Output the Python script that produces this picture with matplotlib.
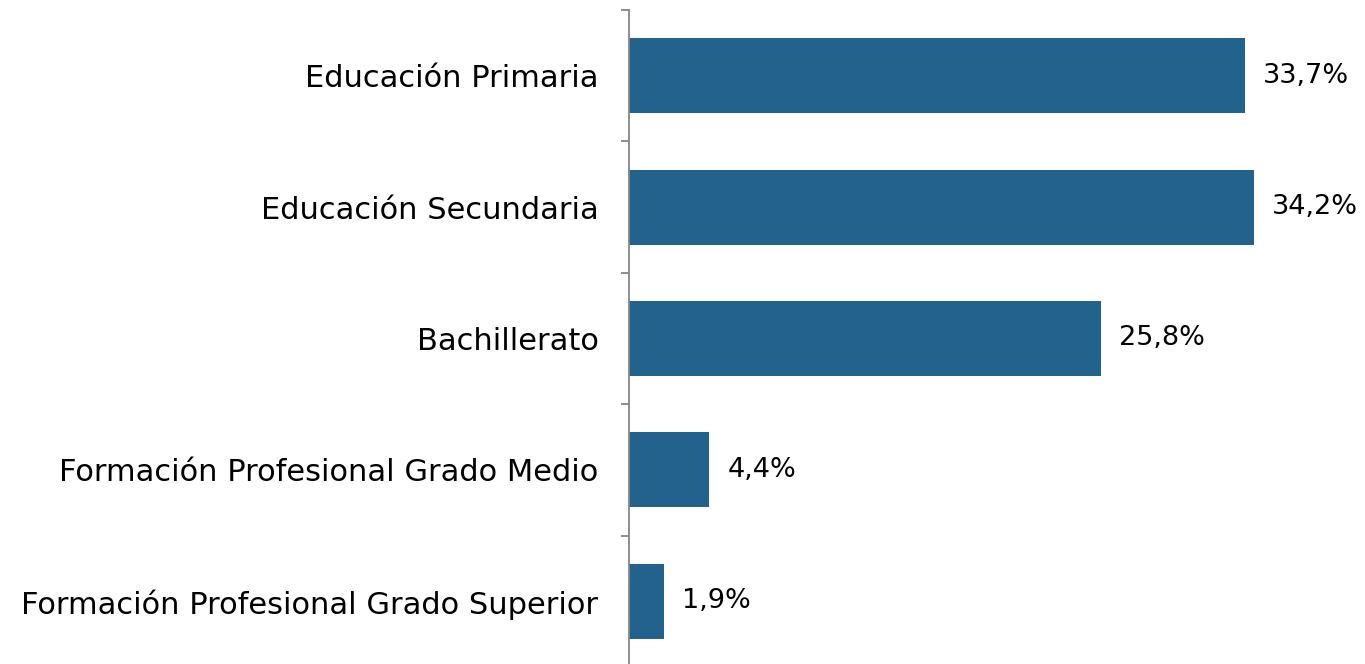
import matplotlib

matplotlib.use("Agg")
import matplotlib.pyplot as plt

# Data
categories = ["Educación Primaria", "Educación Secundaria", "Bachillerato",
              "Formación Profesional Grado Medio", "Formación Profesional Grado Superior"]
values = [33.7, 34.2, 25.8, 4.4, 1.9]
value_labels = ["33,7%", "34,2%", "25,8%", "4,4%", "1,9%"]

bar_color = "#23628C"
axis_color = "#868686"

plt.rcParams["font.family"] = ["DejaVu Sans"]

fig = plt.figure(figsize=(13.65, 6.64), dpi=100)
ax = fig.add_axes([629 / 1365, -3 / 664, 1 - 629 / 1365, 657 / 664])

ypos = list(range(len(categories)))
ax.barh(ypos, values, height=0.57, color=bar_color)
ax.set_ylim(len(categories) - 0.5, -0.5)
ax.set_xlim(0, 40.26)

# Value labels to the right of each bar
for y, v, lab in zip(ypos, values, value_labels):
    ax.annotate(lab, (v, y), xytext=(13, 0), textcoords="offset points",
                va="center", ha="left", fontsize=19.5, color="black")

# Category labels, ticks sit between the categories
ax.set_yticks(ypos)
ax.set_yticklabels(categories, fontsize=22)
ax.set_yticks([i - 0.5 for i in range(len(categories) + 1)], minor=True)
ax.tick_params(axis="y", which="major", length=0, pad=22)
ax.tick_params(axis="y", which="minor", length=6, width=1.3, color=axis_color)

ax.set_xticks([])
for side in ["top", "right", "bottom"]:
    ax.spines[side].set_visible(False)
ax.spines["left"].set_color(axis_color)
ax.spines["left"].set_linewidth(1.3)

plt.savefig("out.png", dpi=100)
